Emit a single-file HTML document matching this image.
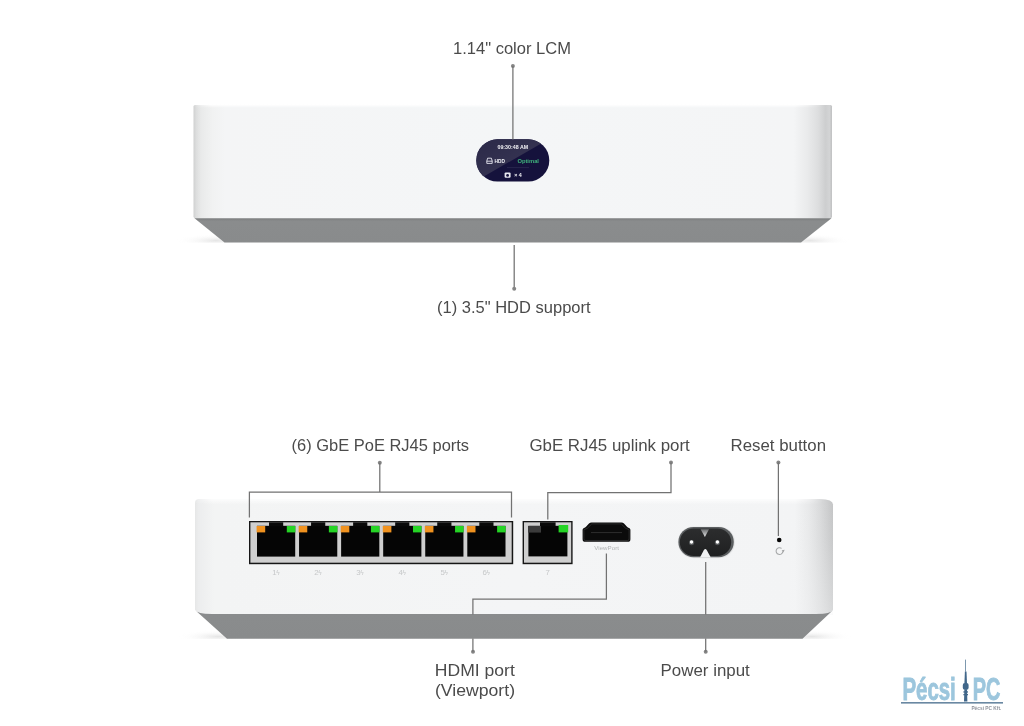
<!DOCTYPE html>
<html lang="en">
<head>
<meta charset="utf-8">
<title>Device overview</title>
<style>
  html,body{margin:0;padding:0;background:#fff;}
  body{width:1024px;height:726px;overflow:hidden;position:relative;font-family:"Liberation Sans",sans-serif;}
  svg{position:absolute;left:0;top:0;display:block;filter:blur(0.3px);}
  .lbl{font-family:"Liberation Sans",sans-serif;font-size:16.4px;fill:#4b4b4b;}
  .ln{stroke:#727272;stroke-width:1.25;fill:none;}
  .dot{fill:#858585;}
  .pn{font-family:"Liberation Sans","DejaVu Sans",sans-serif;font-size:7.8px;fill:#c6c8c9;}
</style>
</head>
<body>
<svg width="1024" height="726" viewBox="0 0 1024 726">
  <defs>
    <linearGradient id="bodyA" gradientUnits="userSpaceOnUse" x1="193.5" y1="0" x2="832" y2="0">
      <stop offset="0" stop-color="#cfd0d0"/>
      <stop offset="0.004" stop-color="#dcdddd"/>
      <stop offset="0.012" stop-color="#e9eaea"/>
      <stop offset="0.03" stop-color="#f1f2f2"/>
      <stop offset="0.05" stop-color="#f4f5f6"/>
      <stop offset="0.5" stop-color="#f4f6f7"/>
      <stop offset="0.94" stop-color="#f4f5f6"/>
      <stop offset="0.962" stop-color="#e9eaeb"/>
      <stop offset="0.978" stop-color="#dddedf"/>
      <stop offset="0.99" stop-color="#cdcecf"/>
      <stop offset="0.996" stop-color="#d3d4d5"/>
      <stop offset="1" stop-color="#bfc0c1"/>
    </linearGradient>
    <linearGradient id="bodyB" gradientUnits="userSpaceOnUse" x1="195" y1="0" x2="833" y2="0">
      <stop offset="0" stop-color="#e6e7e7"/>
      <stop offset="0.006" stop-color="#ecedee"/>
      <stop offset="0.03" stop-color="#f3f4f4"/>
      <stop offset="0.5" stop-color="#f4f5f6"/>
      <stop offset="0.94" stop-color="#f3f4f5"/>
      <stop offset="0.962" stop-color="#e8e9ea"/>
      <stop offset="0.98" stop-color="#d9dadb"/>
      <stop offset="0.995" stop-color="#c9cacb"/>
      <stop offset="1" stop-color="#c4c5c6"/>
    </linearGradient>
    <linearGradient id="baseG" x1="0" y1="0" x2="0" y2="1">
      <stop offset="0" stop-color="#7c7e7f"/>
      <stop offset="0.12" stop-color="#8a8c8d"/>
      <stop offset="1" stop-color="#898b8c"/>
    </linearGradient>
    <linearGradient id="lcdG" x1="0" y1="0" x2="1" y2="1">
      <stop offset="0" stop-color="#2b2948"/>
      <stop offset="1" stop-color="#3c3a58"/>
    </linearGradient>
    <linearGradient id="pwrG" x1="0" y1="0" x2="0" y2="1">
      <stop offset="0" stop-color="#2c2d2e"/>
      <stop offset="1" stop-color="#1f2021"/>
    </linearGradient>
    <linearGradient id="notchG" x1="0" y1="0" x2="0" y2="1">
      <stop offset="0" stop-color="#6a6c6e"/>
      <stop offset="1" stop-color="#e2e3e4"/>
    </linearGradient>
    <linearGradient id="fadeT" x1="0" y1="0" x2="0" y2="1">
      <stop offset="0" stop-color="#ffffff" stop-opacity="1"/>
      <stop offset="1" stop-color="#ffffff" stop-opacity="0"/>
    </linearGradient>
    <linearGradient id="fadeH" gradientUnits="userSpaceOnUse" x1="193" y1="0" x2="833" y2="0">
      <stop offset="0" stop-color="#000"/>
      <stop offset="0.03" stop-color="#fff"/>
      <stop offset="0.94" stop-color="#fff"/>
      <stop offset="0.985" stop-color="#000"/>
    </linearGradient>
    <mask id="fadeM" maskUnits="userSpaceOnUse" x="190" y="90" width="650" height="430"><rect x="190" y="90" width="650" height="430" fill="url(#fadeH)"/></mask>
    <linearGradient id="fadeR" x1="0" y1="0" x2="0" y2="1">
      <stop offset="0" stop-color="#f4f5f6" stop-opacity="0"/>
      <stop offset="0.35" stop-color="#f4f5f6" stop-opacity="0.1"/>
      <stop offset="1" stop-color="#f4f5f6" stop-opacity="0.42"/>
    </linearGradient>
    <radialGradient id="shad" cx="0.5" cy="0.5" r="0.5">
      <stop offset="0" stop-color="#e5e5e5"/>
      <stop offset="1" stop-color="#ffffff" stop-opacity="0"/>
    </radialGradient>
    <clipPath id="shClipA"><rect x="150" y="225" width="724" height="17.8"/></clipPath>
    <clipPath id="shClipB"><rect x="150" y="620" width="724" height="18.9"/></clipPath>
    <clipPath id="lcdClip"><rect x="476.3" y="139.3" width="73" height="42.2" rx="21.1"/></clipPath>
  </defs>

  <!-- ================= TOP DEVICE (front) ================= -->
  <g id="front">
    <ellipse cx="216" cy="240.6" rx="40" ry="6.5" fill="url(#shad)" clip-path="url(#shClipA)"/>
    <ellipse cx="810" cy="240.6" rx="40" ry="6.5" fill="url(#shad)" clip-path="url(#shClipA)"/>
    <path d="M193.5 106.5 Q193.5 105 195 105 L830.5 105 Q832 105 832 106.5 L832 216.5 Q832 218.5 830 218.5 L195.5 218.5 Q193.5 218.5 193.5 216.5 Z" fill="url(#bodyA)"/>
    <rect x="193" y="104.4" width="640" height="3.6" fill="url(#fadeT)" mask="url(#fadeM)"/>
    <polygon points="194.5,218.3 831.5,218.3 801,242.6 224.5,242.6" fill="url(#baseG)"/>
    <!-- LCD -->
    <g clip-path="url(#lcdClip)">
      <rect x="476" y="139" width="74" height="43" fill="#15123c"/>
      <polygon points="476,139 549,139 476,181" fill="url(#lcdG)"/>
    </g>
    <text x="512.8" y="148.6" text-anchor="middle" font-family="Liberation Sans,sans-serif" font-weight="bold" font-size="5.2" fill="#f2f2f6" textLength="30.6" lengthAdjust="spacingAndGlyphs">09:30:48 AM</text>
    <g fill="none" stroke="#e4e4ee" stroke-width="0.9">
      <path d="M487.6 158.2 H491.4 L492.2 161 V163.4 H486.8 V161 Z"/>
      <path d="M486.8 161.2 H492.2"/>
    </g>
    <text x="494.6" y="162.7" font-family="Liberation Sans,sans-serif" font-weight="bold" font-size="5.6" fill="#f2f2f6" textLength="10.4" lengthAdjust="spacingAndGlyphs">HDD</text>
    <text x="517.4" y="162.6" font-family="Liberation Sans,sans-serif" font-weight="bold" font-size="5.7" fill="#3fb37c" textLength="21.6" lengthAdjust="spacingAndGlyphs">Optimal</text>
    <line x1="507" y1="167.6" x2="529" y2="167.6" stroke="#3a3a5e" stroke-width="0.5"/>
    <g>
      <rect x="504.6" y="172.4" width="6" height="5.4" rx="1.2" fill="#e8e8f0"/>
      <circle cx="507.6" cy="175.4" r="1.4" fill="#15123c"/>
    </g>
    <text x="514.2" y="177.3" font-family="Liberation Sans,sans-serif" font-weight="bold" font-size="5.6" fill="#f2f2f6" textLength="7.6" lengthAdjust="spacingAndGlyphs">× 4</text>
  </g>

  <!-- top labels -->
  <text class="lbl" x="453" y="53.8" textLength="118" lengthAdjust="spacingAndGlyphs">1.14" color LCM</text>
  <circle class="dot" cx="512.9" cy="66" r="2"/>
  <line class="ln" x1="512.9" y1="66" x2="512.9" y2="139.5"/>
  <line class="ln" x1="514.2" y1="245" x2="514.2" y2="288.5"/>
  <circle class="dot" cx="514.2" cy="288.8" r="2"/>
  <text class="lbl" x="437" y="313.2" textLength="153.6" lengthAdjust="spacingAndGlyphs">(1) 3.5" HDD support</text>

  <!-- ================= BOTTOM DEVICE (rear) ================= -->
  <g id="rear">
    <ellipse cx="218" cy="636.6" rx="40" ry="6.5" fill="url(#shad)" clip-path="url(#shClipB)"/>
    <ellipse cx="812" cy="636.6" rx="40" ry="6.5" fill="url(#shad)" clip-path="url(#shClipB)"/>
    <path d="M195 503 Q195 499 199 499 L820 499 Q833 499.4 833 504.5 L833 609.5 Q832 613.6 816 614.3 L212 614.3 Q196 613.6 195 609.5 Z" fill="url(#bodyB)"/>
    <rect x="790" y="500" width="43" height="115" fill="url(#fadeR)"/>
    <rect x="193" y="497" width="640" height="8" fill="url(#fadeT)" mask="url(#fadeM)"/>
    <path d="M195.6 610.4 Q197 613.4 212 614 L816 614 Q831 613.4 832.6 610.4 L802.5 638.7 L227 638.7 Z" fill="url(#baseG)"/>

    <!-- PoE port block -->
    <rect x="249" y="521" width="264.2" height="43.2" fill="#161616"/>
    <rect x="250.4" y="522.3" width="261.3" height="40.4" fill="#cfcfcf"/>
    <g id="ports">
      <rect x="257.00" y="525.8" width="38.2" height="30.8" fill="#050505"/>
      <rect x="269.00" y="522.3" width="14.2" height="4" fill="#0a0a0a"/>
      <rect x="256.60" y="526" width="8.6" height="6.4" fill="#f0921f"/>
      <rect x="286.80" y="526" width="8.6" height="6.4" fill="#25d425"/>
      <text class="pn" x="275.9" y="574.8" text-anchor="middle">1<tspan font-size="6.4" dx="-0.4">ϟ</tspan></text>
      <rect x="299.06" y="525.8" width="38.2" height="30.8" fill="#050505"/>
      <rect x="311.06" y="522.3" width="14.2" height="4" fill="#0a0a0a"/>
      <rect x="298.66" y="526" width="8.6" height="6.4" fill="#f0921f"/>
      <rect x="328.86" y="526" width="8.6" height="6.4" fill="#25d425"/>
      <text class="pn" x="318.0" y="574.8" text-anchor="middle">2<tspan font-size="6.4" dx="-0.4">ϟ</tspan></text>
      <rect x="341.12" y="525.8" width="38.2" height="30.8" fill="#050505"/>
      <rect x="353.12" y="522.3" width="14.2" height="4" fill="#0a0a0a"/>
      <rect x="340.72" y="526" width="8.6" height="6.4" fill="#f0921f"/>
      <rect x="370.92" y="526" width="8.6" height="6.4" fill="#25d425"/>
      <text class="pn" x="360.0" y="574.8" text-anchor="middle">3<tspan font-size="6.4" dx="-0.4">ϟ</tspan></text>
      <rect x="383.18" y="525.8" width="38.2" height="30.8" fill="#050505"/>
      <rect x="395.18" y="522.3" width="14.2" height="4" fill="#0a0a0a"/>
      <rect x="382.78" y="526" width="8.6" height="6.4" fill="#f0921f"/>
      <rect x="412.98" y="526" width="8.6" height="6.4" fill="#25d425"/>
      <text class="pn" x="402.1" y="574.8" text-anchor="middle">4<tspan font-size="6.4" dx="-0.4">ϟ</tspan></text>
      <rect x="425.24" y="525.8" width="38.2" height="30.8" fill="#050505"/>
      <rect x="437.24" y="522.3" width="14.2" height="4" fill="#0a0a0a"/>
      <rect x="424.84" y="526" width="8.6" height="6.4" fill="#f0921f"/>
      <rect x="455.04" y="526" width="8.6" height="6.4" fill="#25d425"/>
      <text class="pn" x="444.1" y="574.8" text-anchor="middle">5<tspan font-size="6.4" dx="-0.4">ϟ</tspan></text>
      <rect x="467.30" y="525.8" width="38.2" height="30.8" fill="#050505"/>
      <rect x="479.30" y="522.3" width="14.2" height="4" fill="#0a0a0a"/>
      <rect x="466.90" y="526" width="8.6" height="6.4" fill="#f0921f"/>
      <rect x="497.10" y="526" width="8.6" height="6.4" fill="#25d425"/>
      <text class="pn" x="486.2" y="574.8" text-anchor="middle">6<tspan font-size="6.4" dx="-0.4">ϟ</tspan></text>
    </g>

    <!-- uplink port -->
    <rect x="522.6" y="521" width="50" height="43.2" fill="#161616"/>
    <rect x="524" y="522.3" width="47.2" height="40.4" fill="#cfcfcf"/>
    <rect x="528.4" y="525.8" width="39" height="30.6" fill="#050505"/>
    <rect x="540" y="522.3" width="15.6" height="4" fill="#0a0a0a"/>
    <rect x="528" y="526" width="13" height="6.6" fill="#3b3b3b"/>
    <rect x="558.6" y="525" width="9.6" height="7.4" fill="#25d425"/>
    <text class="pn" x="547.6" y="574.8" text-anchor="middle">7</text>

    <!-- HDMI -->
    <path d="M591.5 522.6 L621.5 522.6 Q623 522.6 624 523.6 L627 526.8 Q627.8 527.6 629 527.9 Q630.4 528.3 630.4 529.8 L630.4 539.2 Q630.4 541.8 627.8 541.8 L585.2 541.8 Q582.6 541.8 582.6 539.2 L582.6 529.8 Q582.6 528.3 584 527.9 Q585.2 527.6 586 526.8 L589 523.6 Q590 522.6 591.5 522.6 Z" fill="#0b0b0b"/>
    <path d="M591.8 523.9 L621.2 523.9 L625.8 528.4 L629.1 529.6 L629.1 539 Q629.1 540.5 627.6 540.5 L585.4 540.5 Q583.9 540.5 583.9 539 L583.9 529.6 L587.2 528.4 Z" fill="none" stroke="#4a4a4a" stroke-width="0.5"/>
    <line x1="591" y1="532.6" x2="622" y2="532.6" stroke="#2e2e2e" stroke-width="1"/>
    <text x="606.6" y="550.2" text-anchor="middle" font-family="Liberation Sans,sans-serif" font-size="6.2" fill="#b2b4b5">ViewPort</text>

    <!-- power C8 -->
    <rect x="677.8" y="526.4" width="57.2" height="31.8" rx="15.9" fill="#e4e5e6"/>
    <rect x="678.4" y="526.9" width="55.4" height="30.4" rx="15.2" fill="#5b5e60"/>
    <rect x="679.8" y="528.4" width="51.4" height="27.6" rx="13.8" fill="url(#pwrG)"/>
    <polygon points="700.6,529.2 709,529.2 704.9,536.9" fill="url(#notchG)"/>
    <path d="M700 557.4 L703.9 550 Q705.3 547.9 706.7 550 L710.8 557.4 Z" fill="#f0f1f2"/>
    <circle cx="691.6" cy="542.6" r="2.6" fill="#55585a"/>
    <circle cx="717.4" cy="542.6" r="2.6" fill="#55585a"/>
    <circle cx="691.5" cy="542" r="1.7" fill="#ffffff"/>
    <circle cx="717.4" cy="542" r="1.7" fill="#ffffff"/>

    <!-- reset -->
    <circle cx="779.2" cy="540" r="2.3" fill="#050505"/>
    <path d="M781.6 548.4 A3.4 3.4 0 1 0 782.9 551.3" fill="none" stroke="#a4a6a7" stroke-width="1.05"/>
    <polygon points="781.7,550.3 784.7,549.8 783.4,552.4" fill="#a4a6a7"/>
  </g>

  <!-- bottom labels + leader lines -->
  <text class="lbl" x="291.5" y="450.8" textLength="177.6" lengthAdjust="spacingAndGlyphs">(6) GbE PoE RJ45 ports</text>
  <text class="lbl" x="529.4" y="450.8" textLength="160.4" lengthAdjust="spacingAndGlyphs">GbE RJ45 uplink port</text>
  <text class="lbl" x="730.6" y="450.8" textLength="95.4" lengthAdjust="spacingAndGlyphs">Reset button</text>
  <text class="lbl" x="434.8" y="675.8" textLength="80" lengthAdjust="spacingAndGlyphs">HDMI port</text>
  <text class="lbl" x="435" y="696.4" textLength="80" lengthAdjust="spacingAndGlyphs">(Viewport)</text>
  <text class="lbl" x="660.6" y="675.8" textLength="89.2" lengthAdjust="spacingAndGlyphs">Power input</text>

  <circle class="dot" cx="379.8" cy="462.8" r="2"/>
  <path class="ln" d="M379.8 462.8 V492.1 M249.4 517.6 V492.1 H511.5 V517.6"/>
  <circle class="dot" cx="671" cy="462.4" r="2"/>
  <path class="ln" d="M671 462.6 V492.5 H547.8 V519.6"/>
  <circle class="dot" cx="778.4" cy="462.4" r="2"/>
  <path class="ln" d="M778.4 462.4 V536"/>
  <circle class="dot" cx="473" cy="651.8" r="2"/>
  <path class="ln" d="M606.4 553.4 V599.1 H472.9 V614.5 M472.9 638.5 V651.8"/>
  <circle class="dot" cx="705.7" cy="651.8" r="2"/>
  <path class="ln" d="M705.7 562 V614.5 M705.7 638.5 V651.8"/>

  <!-- ================= LOGO ================= -->
  <g id="logo">
    <text x="902.4" y="700.2" font-family="Liberation Sans,sans-serif" font-weight="bold" font-size="31" fill="#9cc6dd" stroke="#9cc6dd" stroke-width="0.9" textLength="53.4" lengthAdjust="spacingAndGlyphs">Pécsi</text>
    <text x="972.8" y="700.2" font-family="Liberation Sans,sans-serif" font-weight="bold" font-size="31" fill="#9cc6dd" stroke="#9cc6dd" stroke-width="0.9" textLength="27.6" lengthAdjust="spacingAndGlyphs">PC</text>
    <rect x="901" y="702.2" width="102" height="1.3" fill="#466c8c"/>
    <!-- tower -->
    <rect x="965.3" y="659.6" width="0.7" height="12" fill="#466c8c"/>
    <polygon points="964.9,671.6 966.5,671.6 967,683.4 964.4,683.4" fill="#41678a"/>
    <rect x="962.8" y="683" width="5.8" height="6.8" rx="2" fill="#41678a"/>
    <polygon points="964.4,689.2 967,689.2 967.4,701.6 964,701.6" fill="#41678a"/>
    <rect x="963.4" y="691.3" width="4.6" height="1.3" fill="#41678a"/>
    <rect x="963.4" y="694" width="4.6" height="1.3" fill="#41678a"/>
    <text x="971.4" y="710.4" font-family="Liberation Sans,sans-serif" font-weight="bold" font-size="4.6" fill="#8e929b" textLength="30" lengthAdjust="spacingAndGlyphs">Pécsi PC Kft.</text>
  </g>
</svg>
</body>
</html>
